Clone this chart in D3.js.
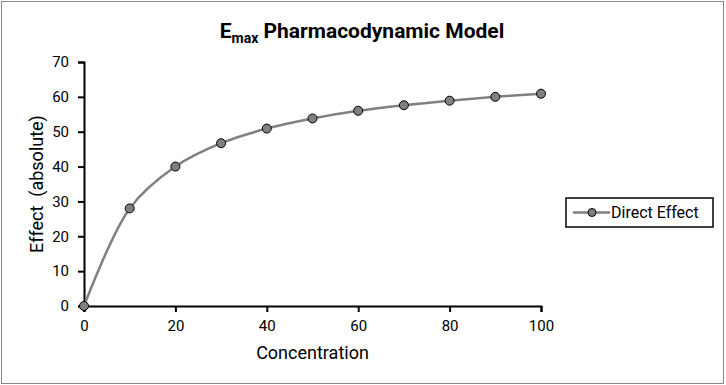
<!DOCTYPE html>
<html>
<head>
<meta charset="utf-8">
<script src="https://cdn.jsdelivr.net/npm/d3@7"></script>
<style>
  body { margin: 0; background: #fff; }
  text { font-family: Roboto, "Liberation Sans", sans-serif; fill: #000; }
</style>
</head>
<body>
<div id="chart"></div>
<script>
const concentration = [0, 10, 20, 30, 40, 50, 60, 70, 80, 90, 100];
const directEffect = [0, 28, 40, 46.7, 50.9, 53.8, 56, 57.6, 58.9, 60, 60.9];
const xTicks = [0, 20, 40, 60, 80, 100];
const yTicks = [0, 10, 20, 30, 40, 50, 60, 70];
const seriesName = "Direct Effect";

const width = 726, height = 385;
const margin = { top: 62, right: 185, bottom: 79, left: 84 };

const svg = d3.select("#chart")
    .append("svg")
    .attr("width", width)
    .attr("height", height);

// outer frame
svg.append("rect")
    .attr("x", 1.5).attr("y", 1.5)
    .attr("width", width - 4).attr("height", height - 3)
    .attr("fill", "none")
    .attr("stroke", "#888")
    .attr("stroke-width", 1);

const x = d3.scaleLinear()
    .domain([0, 100])
    .range([margin.left, width - margin.right]);

const y = d3.scaleLinear()
    .domain([0, 70])
    .range([height - margin.bottom, margin.top]);

const xAxis = svg.append("g")
    .attr("transform", `translate(0,${y(0)})`)
    .call(d3.axisBottom(x).tickValues(xTicks).tickSize(6).tickPadding(8));

const yAxis = svg.append("g")
    .attr("transform", `translate(${x(0)},0)`)
    .call(d3.axisLeft(y).tickValues(yTicks).tickSize(6).tickPadding(9));

[xAxis, yAxis].forEach(g => {
    g.select(".domain").attr("stroke", "#000").attr("stroke-width", 2);
    g.selectAll(".tick line").attr("stroke", "#000").attr("stroke-width", 2);
    g.selectAll(".tick text").style("font-size", "15px").attr("fill", "#000");
});

// title with subscript
const title = svg.append("text")
    .attr("x", 362)
    .attr("y", 38)
    .attr("text-anchor", "middle")
    .style("font-size", "21px")
    .style("font-weight", "bold");
title.append("tspan").text("E");
title.append("tspan").text("max").attr("dy", 5).style("font-size", "14px");
title.append("tspan").text(" Pharmacodynamic Model").attr("dy", -5);

svg.append("text")
    .attr("x", x(50))
    .attr("y", 359)
    .attr("text-anchor", "middle")
    .style("font-size", "18px")
    .text("Concentration");

svg.append("text")
    .attr("transform", `translate(43,${y(35)}) rotate(-90)`)
    .attr("text-anchor", "middle")
    .style("font-size", "18px")
    .style("white-space", "pre")
    .text("Effect  (absolute)");

const data = concentration.map((c, i) => ({ c: c, v: directEffect[i] }));

const line = d3.line()
    .x(d => x(d.c))
    .y(d => y(d.v))
    .curve(d3.curveCatmullRom.alpha(0.5));

svg.append("path")
    .datum(data)
    .attr("d", line)
    .attr("fill", "none")
    .attr("stroke", "#808080")
    .attr("stroke-width", 2.5);

svg.selectAll("circle.pt")
    .data(data)
    .enter()
    .append("circle")
    .attr("class", "pt")
    .attr("cx", d => x(d.c))
    .attr("cy", d => y(d.v))
    .attr("r", 4.5)
    .attr("fill", "#808080")
    .attr("stroke", "#000")
    .attr("stroke-width", 1);

// legend
const legend = svg.append("g").attr("transform", "translate(566,198)");
legend.append("rect")
    .attr("width", 147).attr("height", 29)
    .attr("fill", "#fff")
    .attr("stroke", "#000")
    .attr("stroke-width", 1.5);
legend.append("line")
    .attr("x1", 7).attr("x2", 44)
    .attr("y1", 14.5).attr("y2", 14.5)
    .attr("stroke", "#808080")
    .attr("stroke-width", 2.5);
legend.append("circle")
    .attr("cx", 26).attr("cy", 14.5).attr("r", 4)
    .attr("fill", "#808080")
    .attr("stroke", "#000");
legend.append("text")
    .attr("x", 45).attr("y", 20)
    .style("font-size", "16px")
    .text(seriesName);
</script>
</body>
</html>
